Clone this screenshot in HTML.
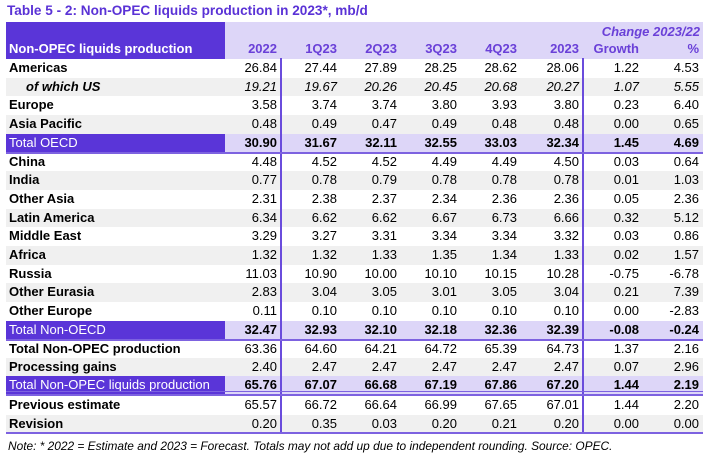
<!DOCTYPE html>
<html><head><meta charset="utf-8"><style>
body{margin:0;width:717px;height:461px;background:#fff;position:relative;font-family:"Liberation Sans",Arial,sans-serif;overflow:hidden}
.t{position:absolute;left:7px;top:3px;font-size:13.6px;font-weight:bold;color:#5a32d6}
.r{position:absolute;left:6px;width:697px;height:18.7px;font-size:13px;color:#000;display:flex;align-items:center}
.r div{box-sizing:border-box;text-align:right;padding-right:4px;line-height:18.7px;height:18.7px}
.r .l{text-align:left;width:219px;padding-left:3px}
.c1{width:56px}.c2,.c3,.c4,.c5,.c7,.c8{width:60px}.c6{width:62px}.c8{width:60px}
.g{background:#f0f0f0}
.tot{background:#ddd6f8;font-weight:bold}
.tot .l{background:#5a35d8;color:#fff;font-weight:normal}
.it{font-style:italic}
.it .l{padding-left:20px;font-weight:bold}
.b .l{font-weight:bold}
.hl{position:absolute;left:6px;width:697px;background:#7d62e0}
.vl{position:absolute;width:2px;background:#6a4cdc;top:175px;height:258px}
</style></head><body>
<div class="t">Table 5 - 2: Non-OPEC liquids production in 2023*, mb/d</div>
<div style="position:absolute;left:6px;top:22px;width:219px;height:37px;background:#5a35d8"></div>
<div style="position:absolute;left:225px;top:22px;width:478px;height:37px;background:#ddd6f8"></div>
<div style="position:absolute;left:560px;top:24px;width:140px;text-align:right;font-size:13px;font-weight:bold;font-style:italic;color:#6a40d8">Change 2023/22</div>
<div class="r" style="top:40px;font-weight:bold;color:#6a40d8">
<div class="l" style="color:#fff">Non-OPEC liquids production</div><div class="c1">2022</div><div class="c2">1Q23</div><div class="c3">2Q23</div><div class="c4">3Q23</div><div class="c5">4Q23</div><div class="c6">2023</div><div class="c7">Growth</div><div class="c8">%</div></div>

<div class="r b" style="top:59px"><div class="l">Americas</div><div class="c1">26.84</div><div class="c2">27.44</div><div class="c3">27.89</div><div class="c4">28.25</div><div class="c5">28.62</div><div class="c6">28.06</div><div class="c7">1.22</div><div class="c8">4.53</div></div>
<div class="r it g" style="top:77.7px"><div class="l">of which US</div><div class="c1">19.21</div><div class="c2">19.67</div><div class="c3">20.26</div><div class="c4">20.45</div><div class="c5">20.68</div><div class="c6">20.27</div><div class="c7">1.07</div><div class="c8">5.55</div></div>
<div class="r b" style="top:96.4px"><div class="l">Europe</div><div class="c1">3.58</div><div class="c2">3.74</div><div class="c3">3.74</div><div class="c4">3.80</div><div class="c5">3.93</div><div class="c6">3.80</div><div class="c7">0.23</div><div class="c8">6.40</div></div>
<div class="r b g" style="top:115.1px"><div class="l">Asia Pacific</div><div class="c1">0.48</div><div class="c2">0.49</div><div class="c3">0.47</div><div class="c4">0.49</div><div class="c5">0.48</div><div class="c6">0.48</div><div class="c7">0.00</div><div class="c8">0.65</div></div>
<div class="r tot" style="top:133.8px"><div class="l">Total OECD</div><div class="c1">30.90</div><div class="c2">31.67</div><div class="c3">32.11</div><div class="c4">32.55</div><div class="c5">33.03</div><div class="c6">32.34</div><div class="c7">1.45</div><div class="c8">4.69</div></div>
<div class="r b" style="top:152.5px"><div class="l">China</div><div class="c1">4.48</div><div class="c2">4.52</div><div class="c3">4.52</div><div class="c4">4.49</div><div class="c5">4.49</div><div class="c6">4.50</div><div class="c7">0.03</div><div class="c8">0.64</div></div>
<div class="r b g" style="top:171.2px"><div class="l">India</div><div class="c1">0.77</div><div class="c2">0.78</div><div class="c3">0.79</div><div class="c4">0.78</div><div class="c5">0.78</div><div class="c6">0.78</div><div class="c7">0.01</div><div class="c8">1.03</div></div>
<div class="r b" style="top:189.9px"><div class="l">Other Asia</div><div class="c1">2.31</div><div class="c2">2.38</div><div class="c3">2.37</div><div class="c4">2.34</div><div class="c5">2.36</div><div class="c6">2.36</div><div class="c7">0.05</div><div class="c8">2.36</div></div>
<div class="r b g" style="top:208.6px"><div class="l">Latin America</div><div class="c1">6.34</div><div class="c2">6.62</div><div class="c3">6.62</div><div class="c4">6.67</div><div class="c5">6.73</div><div class="c6">6.66</div><div class="c7">0.32</div><div class="c8">5.12</div></div>
<div class="r b" style="top:227.3px"><div class="l">Middle East</div><div class="c1">3.29</div><div class="c2">3.27</div><div class="c3">3.31</div><div class="c4">3.34</div><div class="c5">3.34</div><div class="c6">3.32</div><div class="c7">0.03</div><div class="c8">0.86</div></div>
<div class="r b g" style="top:246px"><div class="l">Africa</div><div class="c1">1.32</div><div class="c2">1.32</div><div class="c3">1.33</div><div class="c4">1.35</div><div class="c5">1.34</div><div class="c6">1.33</div><div class="c7">0.02</div><div class="c8">1.57</div></div>
<div class="r b" style="top:264.7px"><div class="l">Russia</div><div class="c1">11.03</div><div class="c2">10.90</div><div class="c3">10.00</div><div class="c4">10.10</div><div class="c5">10.15</div><div class="c6">10.28</div><div class="c7">-0.75</div><div class="c8">-6.78</div></div>
<div class="r b g" style="top:283.4px"><div class="l">Other Eurasia</div><div class="c1">2.83</div><div class="c2">3.04</div><div class="c3">3.05</div><div class="c4">3.01</div><div class="c5">3.05</div><div class="c6">3.04</div><div class="c7">0.21</div><div class="c8">7.39</div></div>
<div class="r b" style="top:302.1px"><div class="l">Other Europe</div><div class="c1">0.11</div><div class="c2">0.10</div><div class="c3">0.10</div><div class="c4">0.10</div><div class="c5">0.10</div><div class="c6">0.10</div><div class="c7">0.00</div><div class="c8">-2.83</div></div>
<div class="r tot" style="top:320.8px"><div class="l">Total Non-OECD</div><div class="c1">32.47</div><div class="c2">32.93</div><div class="c3">32.10</div><div class="c4">32.18</div><div class="c5">32.36</div><div class="c6">32.39</div><div class="c7">-0.08</div><div class="c8">-0.24</div></div>
<div class="r b" style="top:339.5px"><div class="l">Total Non-OPEC production</div><div class="c1">63.36</div><div class="c2">64.60</div><div class="c3">64.21</div><div class="c4">64.72</div><div class="c5">65.39</div><div class="c6">64.73</div><div class="c7">1.37</div><div class="c8">2.16</div></div>
<div class="r b g" style="top:358.2px"><div class="l">Processing gains</div><div class="c1">2.40</div><div class="c2">2.47</div><div class="c3">2.47</div><div class="c4">2.47</div><div class="c5">2.47</div><div class="c6">2.47</div><div class="c7">0.07</div><div class="c8">2.96</div></div>
<div class="r tot" style="top:376px"><div class="l">Total Non-OPEC liquids production</div><div class="c1">65.76</div><div class="c2">67.07</div><div class="c3">66.68</div><div class="c4">67.19</div><div class="c5">67.86</div><div class="c6">67.20</div><div class="c7">1.44</div><div class="c8">2.19</div></div>
<div class="r b" style="top:396px"><div class="l">Previous estimate</div><div class="c1">65.57</div><div class="c2">66.72</div><div class="c3">66.64</div><div class="c4">66.99</div><div class="c5">67.65</div><div class="c6">67.01</div><div class="c7">1.44</div><div class="c8">2.20</div></div>
<div class="r b g" style="top:414.5px"><div class="l">Revision</div><div class="c1">0.20</div><div class="c2">0.35</div><div class="c3">0.03</div><div class="c4">0.20</div><div class="c5">0.21</div><div class="c6">0.20</div><div class="c7">0.00</div><div class="c8">0.00</div></div>

<div class="vl" style="left:280px;top:58px;height:375px"></div>
<div class="vl" style="left:582px;top:58px;height:375px"></div>
<div class="hl" style="top:151.5px;height:2px"></div>
<div class="hl" style="top:338.5px;height:2px"></div>
<div class="hl" style="top:391px;height:1px"></div>
<div class="hl" style="top:394px;height:1.5px"></div>
<div class="hl" style="top:432px;height:2px"></div>
<div style="position:absolute;left:8px;top:439px;font-size:11.9px;font-style:italic;color:#000">Note: * 2022 = Estimate and 2023 = Forecast. Totals may not add up due to independent rounding. Source: OPEC.</div>
</body></html>
